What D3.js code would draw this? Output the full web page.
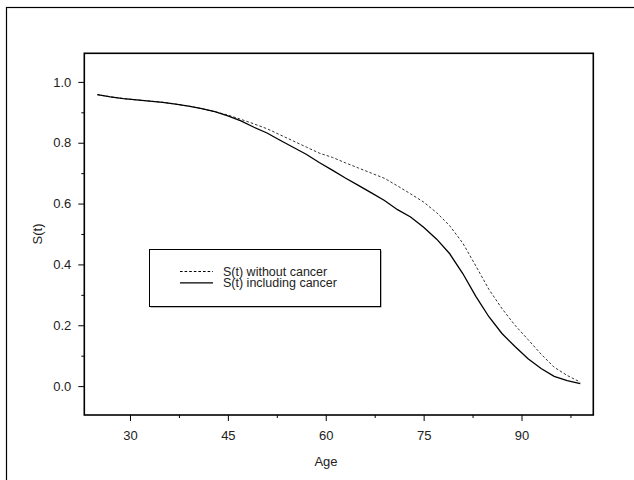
<!DOCTYPE html>
<html lang="en">
<head>
    <meta charset="UTF-8">
    <title>S(t) by age</title>
    <style>
        body { margin: 0; background: #fff; }
        text { font-family: "Liberation Sans", Arial, sans-serif; font-size: 13px; fill: #222; }
        .tick line { stroke: #000; stroke-width: 1px; }
    </style>
</head>
<body>
<svg width="634" height="480"></svg>
<script src="https://d3js.org/d3.v7.min.js"></script>
<script>
    // ages
    var ages = [25, 27, 29, 31, 33, 35, 37, 39, 41, 43, 45, 47, 49, 51, 53, 55, 57, 59, 61, 63,
                65, 67, 69, 71, 73, 75, 77, 79, 81, 83, 85, 87, 89, 91, 93, 95, 97, 99];

    // S(t) including cancer (solid)
    var withCancer = [0.958, 0.951, 0.945, 0.941, 0.937, 0.933, 0.927, 0.920, 0.912, 0.902,
                      0.888, 0.872, 0.851, 0.832, 0.808, 0.785, 0.762, 0.735, 0.710, 0.684,
                      0.660, 0.635, 0.610, 0.580, 0.556, 0.522, 0.483, 0.435, 0.370, 0.295,
                      0.228, 0.173, 0.130, 0.090, 0.058, 0.032, 0.018, 0.008];

    // S(t) without cancer (dashed)
    var withoutCancer = [0.958, 0.951, 0.945, 0.941, 0.937, 0.933, 0.927, 0.920, 0.912, 0.902,
                         0.891, 0.877, 0.862, 0.846, 0.826, 0.806, 0.786, 0.766, 0.752, 0.734,
                         0.717, 0.700, 0.683, 0.658, 0.632, 0.605, 0.570, 0.527, 0.470, 0.395,
                         0.318, 0.255, 0.200, 0.153, 0.105, 0.062, 0.035, 0.013];

    var xTicks = [30, 45, 60, 75, 90];
    var xMinor = [37.5, 52.5, 67.5, 82.5, 97.5];
    var yTicks = [0, 0.2, 0.4, 0.6, 0.8, 1.0];
    var yMinor = [0.1, 0.3, 0.5, 0.7, 0.9];

    var legendLabels = ["S(t) without cancer", "S(t) including cancer"];

    var svg = d3.select("svg");

    // outer frame (runs off the right and bottom edge)
    svg.append("rect")
        .attr("x", 6.5).attr("y", 7.5)
        .attr("width", 700).attr("height", 600)
        .attr("fill", "none").attr("stroke", "#000").attr("stroke-width", 1.2);

    var box = { left: 84.3, right: 593.3, top: 53.3, bottom: 415 };

    var x = d3.scaleLinear().domain([23, 101]).range([box.left, box.right]);
    var y = d3.scaleLinear().domain([-0.095, 1.094]).range([box.bottom, box.top]);

    // axes
    var gx = svg.append("g").attr("transform", "translate(0," + box.bottom + ")")
        .call(d3.axisBottom(x).tickValues(xTicks).tickSize(6).tickPadding(10).tickFormat(d3.format("d")));
    gx.select(".domain").remove();
    var gxm = svg.append("g").attr("transform", "translate(0," + box.bottom + ")")
        .call(d3.axisBottom(x).tickValues(xMinor).tickSize(3).tickFormat(""));
    gxm.select(".domain").remove();

    var gy = svg.append("g").attr("transform", "translate(" + box.left + ",0)")
        .call(d3.axisLeft(y).tickValues(yTicks).tickSize(6).tickPadding(7).tickFormat(d3.format(".1f")));
    gy.select(".domain").remove();
    var gym = svg.append("g").attr("transform", "translate(" + box.left + ",0)")
        .call(d3.axisLeft(y).tickValues(yMinor).tickSize(3).tickFormat(""));
    gym.select(".domain").remove();

    svg.selectAll(".tick text").style("font-family", "'Liberation Sans', Arial, sans-serif")
        .style("font-size", "13px").attr("fill", "#222");

    // plot box
    svg.append("rect")
        .attr("x", box.left).attr("y", box.top)
        .attr("width", box.right - box.left).attr("height", box.bottom - box.top)
        .attr("fill", "none").attr("stroke", "#000").attr("stroke-width", 1.6);

    // axis titles
    svg.append("text").attr("x", 326).attr("y", 466)
        .attr("text-anchor", "middle").text("Age");
    svg.append("text")
        .attr("transform", "translate(42," + 234 + ") rotate(-90)")
        .attr("text-anchor", "middle").text("S(t)");

    // curves
    var line = d3.line()
        .x(function (d) { return x(d[0]); })
        .y(function (d) { return y(d[1]); });

    svg.append("path")
        .datum(ages.map(function (a, i) { return [a, withoutCancer[i]]; }))
        .attr("d", line)
        .attr("fill", "none").attr("stroke", "#333").attr("stroke-width", 1)
        .attr("stroke-dasharray", "2.6,2");

    svg.append("path")
        .datum(ages.map(function (a, i) { return [a, withCancer[i]]; }))
        .attr("d", line)
        .attr("fill", "none").attr("stroke", "#000").attr("stroke-width", 1.3);

    // legend
    var lg = svg.append("g");
    lg.append("rect")
        .attr("x", 150.5).attr("y", 250.5).attr("width", 231).attr("height", 57)
        .attr("fill", "#777");
    lg.append("rect")
        .attr("x", 149.5).attr("y", 249.5).attr("width", 231).attr("height", 57)
        .attr("fill", "#fff").attr("stroke", "#000").attr("stroke-width", 1);

    var items = lg.selectAll(".item").data(legendLabels).enter().append("g")
        .attr("transform", function (d, i) { return "translate(0," + (271.5 + i * 11.4) + ")"; });
    items.append("line")
        .attr("x1", 180).attr("x2", 213).attr("y1", 0).attr("y2", 0)
        .attr("stroke", "#000").attr("stroke-width", function (d, i) { return i ? 1.3 : 1; })
        .attr("stroke-dasharray", function (d, i) { return i ? null : "2.6,2"; });
    items.append("text")
        .attr("x", 223).attr("y", 0).attr("dy", "0.35em")
        .style("font-size", "12.5px")
        .text(function (d) { return d; });
</script>
</body>
</html>
